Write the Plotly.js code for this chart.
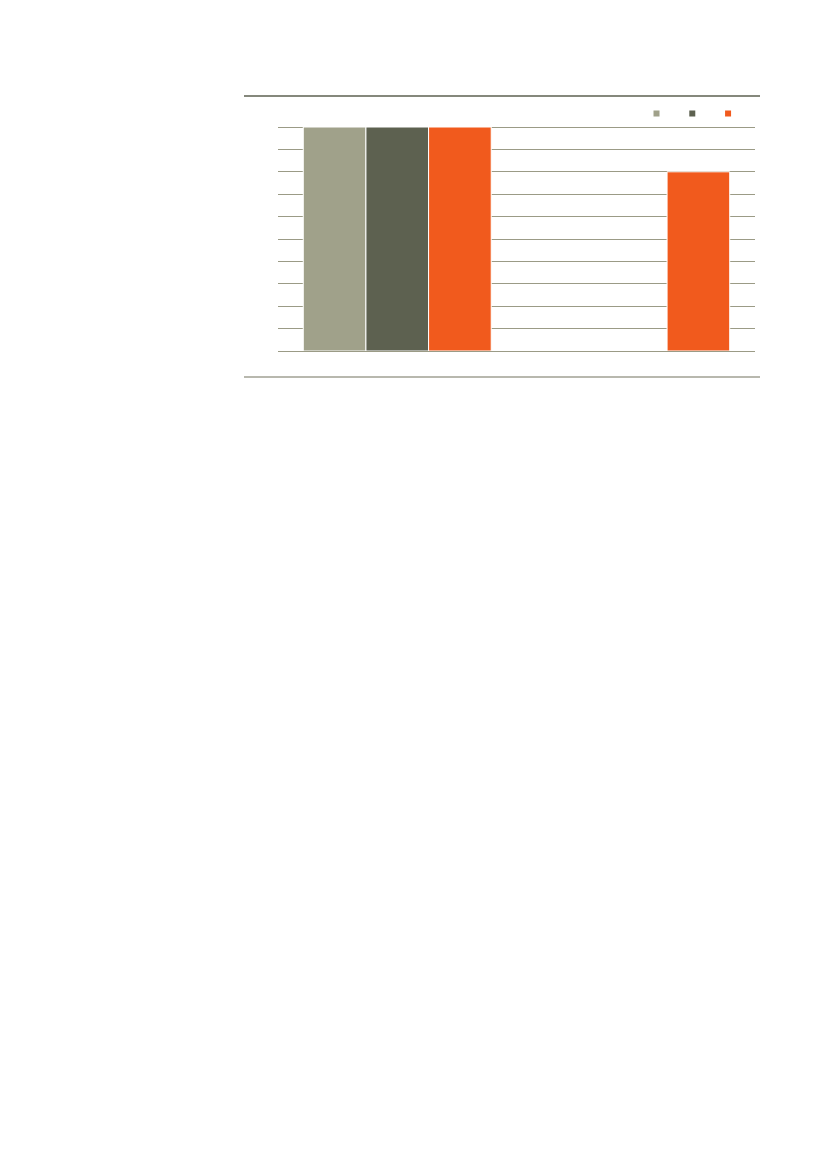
<!DOCTYPE html>
<html>
<head>
<meta charset="utf-8">
<script src="https://cdn.plot.ly/plotly-3.0.1.min.js"></script>
<style>
  html, body { margin: 0; padding: 0; background: #fff; }
  #chart { width: 827px; height: 1169px; }
</style>
</head>
<body>
<div id="chart"></div>
<script>
// two groups, three series; no text labels are printed on the original
var categories = ['1', '2']
var seriesNames = ['', '', '']
var seriesA = [100, null]
var seriesB = [100, null]
var seriesC = [100, 80]
var colors = ['#a0a18a', '#5d6150', '#f15a1d']

window.onload = () => {
    var values = [seriesA, seriesB, seriesC]
    var legendIds = ['legend', 'legend2', 'legend3']
    var traces = []
    values.forEach(function(v, i) {
        traces.push({
            type: 'bar',
            x: categories,
            y: v,
            marker: {color: colors[i], line: {color: '#ffffff', width: 1}},
            showlegend: false,
            hoverinfo: 'none'
        })
    })
    // small square keys, one legend each so they sit close together
    values.forEach(function(v, i) {
        traces.push({
            type: 'scatter',
            mode: 'markers',
            x: [null],
            y: [null],
            name: seriesNames[i],
            legend: legendIds[i],
            marker: {symbol: 'square', size: 6, color: colors[i]},
            hoverinfo: 'none'
        })
    })

    var legendX = [0.7516, 0.8266, 0.9016]
    var layout = {
        width: 827,
        height: 1169,
        margin: {l: 278, r: 72, t: 126, b: 818, autoexpand: false},
        paper_bgcolor: '#ffffff',
        plot_bgcolor: '#ffffff',
        barmode: 'group',
        bargap: 0.212,
        bargroupgap: 0,
        xaxis: {
            type: 'category',
            range: [-0.5, 1.5],
            showticklabels: false,
            showgrid: false,
            showline: false,
            zeroline: false,
            ticks: ''
        },
        yaxis: {
            range: [0, 100.45],
            dtick: 10,
            showticklabels: false,
            showgrid: true,
            gridcolor: '#9b9b86',
            gridwidth: 1,
            zeroline: true,
            zerolinecolor: '#9b9b86',
            zerolinewidth: 1,
            showline: false,
            ticks: ''
        },
        showlegend: true,
        shapes: [
            {type: 'line', xref: 'paper', yref: 'paper', x0: -0.0713, x1: 1.0105, y0: 1.1333, y1: 1.1333,
             line: {color: '#5d6150', width: 1.3}},
            {type: 'line', xref: 'paper', yref: 'paper', x0: -0.0713, x1: 1.0105, y0: -0.1156, y1: -0.1156,
             line: {color: '#a0a093', width: 1.3}}
        ]
    }
    legendIds.forEach(function(id, i) {
        layout[id] = {
            orientation: 'h',
            x: legendX[i],
            xanchor: 'left',
            y: 1.12,
            yanchor: 'top',
            bgcolor: 'rgba(0,0,0,0)',
            font: {family: 'Liberation Sans', size: 9}
        }
    })

    Plotly.newPlot('chart', traces, layout, {staticPlot: true, displayModeBar: false})
}
</script>
</body>
</html>
